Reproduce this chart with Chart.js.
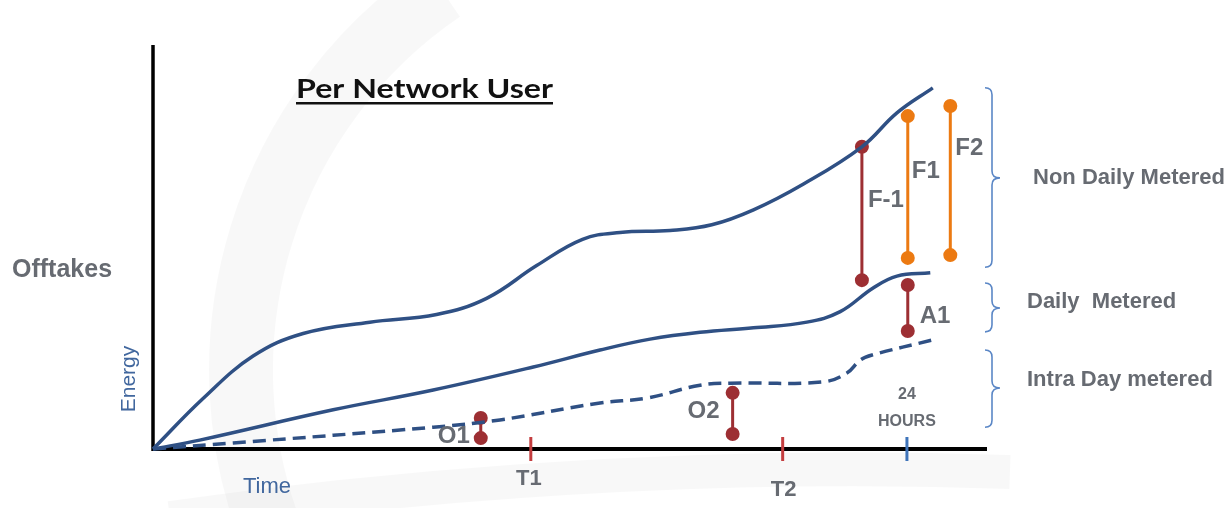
<!DOCTYPE html>
<html>
<head>
<meta charset="utf-8">
<script src="https://cdn.jsdelivr.net/npm/chart.js@4/dist/chart.umd.min.js"></script>
<style>
html,body{margin:0;padding:0;background:#fff;}
canvas{display:block;}
</style>
</head>
<body>
<canvas id="c" width="1230" height="508"></canvas>
<script>
// x = time through the gas day (0..100), y = energy offtaken (0..100)
var nonDailyX = [0, 6, 12, 18, 26, 34, 40, 46, 51.5, 56, 62, 67, 72, 78, 85, 89.2, 93.5];
var nonDailyY = [0, 12.5, 23.0, 28.6, 31.4, 33.3, 37.3, 45.4, 51.9, 53.6, 54.1, 55.5, 59.2, 65.6, 74.8, 83.2, 89.4];

var dailyX = [0, 5.6, 21.6, 33.6, 45.6, 53.6, 59.6, 65.6, 72.0, 78.4, 82.4, 86.3, 89.2, 93.2];
var dailyY = [0, 2.2, 9.7, 14.6, 20.3, 24.5, 27.2, 28.9, 30.0, 31.4, 34.0, 39.8, 42.8, 43.6];

var intraX = [0, 9.6, 33.6, 41.6, 53.6, 59.2, 65.6, 69.2, 80.3, 83.2, 84.8, 86.3, 93.5];
var intraY = [0, 1.5, 5.4, 7.2, 11.4, 12.6, 15.8, 16.3, 16.6, 18.8, 22.0, 23.3, 27.0];

// the gaps marked between curves
var gapNames  = ['F-1', 'F1', 'F2', 'A1', 'O1', 'O2'];
var gapX      = [85.0, 90.5, 95.6, 90.5, 39.3, 69.5];
var gapTop    = [74.8, 82.4, 84.9, 40.6, 7.7, 13.9];
var gapBottom = [41.8, 47.3, 48.0, 29.2, 2.7, 3.7];
var gapLabelY = [61.6, 68.6, 74.3, 32.9, 3.2, 9.2];

// time axis markers
var markNames = ['T1', 'T2', '24h'];
var markX     = [45.3, 75.5, 90.4];

// bracket groups on the right
var groupNames  = ['Non Daily Metered', 'Daily  Metered', 'Intra Day metered'];
var groupTop    = [89.4, 41.1, 24.5];
var groupBottom = [45.0, 29.0, 5.4];
var groupMid    = [67.1, 34.9, 15.1];

var navy = '#2f5084';
var grey = '#676b72';
var darkRed = '#9d2f33';
var orange = '#ec7a12';
var gapColor = {'F-1': darkRed, 'F1': orange, 'F2': orange, 'A1': darkRed, 'O1': darkRed, 'O2': darkRed};
// label placement next to each gap: side and pixel nudge
var gapLabelPos = {'F-1': ['left', 6], 'F1': ['left', 4], 'F2': ['left', 5], 'A1': ['left', 12], 'O1': ['right', -11], 'O2': ['right', -13]};

function pts(xs, ys) {
	var out = [];
	for (var i = 0; i < xs.length; i++) out.push({x: xs[i], y: ys[i]});
	return out;
}

var datasets = [
	{data: pts(nonDailyX, nonDailyY), borderColor: navy, borderWidth: 3.5, pointRadius: 0, tension: 0.4},
	{data: pts(dailyX, dailyY), borderColor: navy, borderWidth: 3.5, pointRadius: 0, tension: 0.4},
	{data: pts(intraX, intraY), borderColor: navy, borderWidth: 3.5, borderDash: [13, 7], pointRadius: 0, tension: 0.4}
];
for (var g = 0; g < gapNames.length; g++) {
	var col = gapColor[gapNames[g]];
	datasets.push({
		data: [{x: gapX[g], y: gapTop[g]}, {x: gapX[g], y: gapBottom[g]}],
		borderColor: col, backgroundColor: col, pointBackgroundColor: col, pointBorderColor: col,
		borderWidth: 3, pointRadius: 5.5, tension: 0
	});
}

var decor = {
	id: 'decor',
	beforeDraw: function(chart) {
		var c = chart.ctx;
		// faint watermark sweep in the background
		c.save();
		c.strokeStyle = 'rgba(0,0,0,0.028)';
		c.lineWidth = 64;
		c.beginPath();
		c.arc(700, 370, 459, Math.PI * 0.88, Math.PI * 1.31);
		c.stroke();
		c.lineWidth = 34;
		c.beginPath();
		c.moveTo(170, 518);
		c.quadraticCurveTo(600, 458, 1010, 472);
		c.stroke();
		c.restore();
	},
	beforeDatasetsDraw: function(chart) {
		var c = chart.ctx, a = chart.chartArea;
		var xs = chart.scales.x;
		c.save();
		// axes
		c.strokeStyle = '#000';
		c.lineWidth = 3.5;
		c.beginPath();
		c.moveTo(a.left, a.top);
		c.lineTo(a.left, a.bottom + 2);
		c.stroke();
		c.lineWidth = 4;
		c.beginPath();
		c.moveTo(a.left, a.bottom);
		c.lineTo(a.right, a.bottom);
		c.stroke();
		// axis markers
		for (var i = 0; i < markX.length; i++) {
			var px = xs.getPixelForValue(markX[i]);
			c.strokeStyle = markNames[i] == '24h' ? '#3f74ba' : '#c43d3f';
			c.lineWidth = 3;
			c.beginPath();
			c.moveTo(px, a.bottom - 12);
			c.lineTo(px, a.bottom + 12);
			c.stroke();
		}
		c.restore();
	},
	afterDatasetsDraw: function(chart) {
		var c = chart.ctx, a = chart.chartArea;
		var xs = chart.scales.x, ys = chart.scales.y;
		c.save();
		c.textBaseline = 'middle';

		// title, stretched to the width it has in the original
		c.fillStyle = '#111';
		c.font = 'bold 27px Lato';
		c.textAlign = 'left';
		var w = c.measureText('Per Network User').width;
		c.save();
		c.translate(296, 89);
		c.scale(257 / w, 1);
		c.fillText('Per Network User', 0, 0);
		c.restore();
		c.fillRect(296, 102, 257, 2.5);

		// axis words
		c.fillStyle = grey;
		c.font = 'bold 25px "Liberation Sans"';
		c.fillText('Offtakes', 12, 270);
		c.fillStyle = '#41679e';
		c.font = '22px "Liberation Sans"';
		c.textAlign = 'center';
		c.fillText('Time', 267, 487);
		c.save();
		c.translate(129, 379);
		c.rotate(-Math.PI / 2);
		c.font = '21px "Liberation Sans"';
		c.fillText('Energy', 0, 0);
		c.restore();

		// marker labels
		c.fillStyle = grey;
		c.font = 'bold 22px "Liberation Sans"';
		c.fillText('T1', xs.getPixelForValue(markX[0]) - 2, 479);
		c.fillText('T2', xs.getPixelForValue(markX[1]) + 1, 490);
		c.font = 'bold 16px "Liberation Sans"';
		c.fillText('24', xs.getPixelForValue(markX[2]), 395);
		c.fillText('HOURS', xs.getPixelForValue(markX[2]), 422);

		// gap labels
		c.font = 'bold 24px "Liberation Sans"';
		for (var g = 0; g < gapNames.length; g++) {
			var pos = gapLabelPos[gapNames[g]];
			c.textAlign = pos[0];
			c.fillText(gapNames[g], xs.getPixelForValue(gapX[g]) + pos[1], ys.getPixelForValue(gapLabelY[g]));
		}

		// right-hand braces and group names
		for (var k = 0; k < groupNames.length; k++) {
			var t = ys.getPixelForValue(groupTop[k]);
			var b = ys.getPixelForValue(groupBottom[k]);
			var m = ys.getPixelForValue(groupMid[k]);
			var x0 = a.right - 2, x1 = a.right + 5, x2 = a.right + 13;
			c.strokeStyle = '#5b87c6';
			c.lineWidth = 1.6;
			c.beginPath();
			c.moveTo(x0, t);
			c.quadraticCurveTo(x1, t, x1, t + 7);
			c.lineTo(x1, m - 7);
			c.quadraticCurveTo(x1, m, x2, m);
			c.quadraticCurveTo(x1, m, x1, m + 7);
			c.lineTo(x1, b - 7);
			c.quadraticCurveTo(x1, b, x0, b);
			c.stroke();
			c.fillStyle = grey;
			c.font = 'bold 22px "Liberation Sans"';
			c.textAlign = 'left';
			c.fillText(groupNames[k], a.right + (k == 0 ? 46 : 40), k == 0 ? m : (k == 1 ? m - 6 : m - 8));
		}
		c.restore();
	}
};

new Chart(document.getElementById('c'), {
	type: 'scatter',
	data: {datasets: datasets},
	options: {
		responsive: false,
		animation: false,
		showLine: true,
		clip: false,
		layout: {padding: {left: 153, right: 243, top: 45, bottom: 59}},
		plugins: {legend: {display: false}, tooltip: {enabled: false}},
		scales: {
			x: {type: 'linear', min: 0, max: 100, display: false},
			y: {type: 'linear', min: 0, max: 100, display: false}
		}
	},
	plugins: [decor]
});
</script>
</body>
</html>
